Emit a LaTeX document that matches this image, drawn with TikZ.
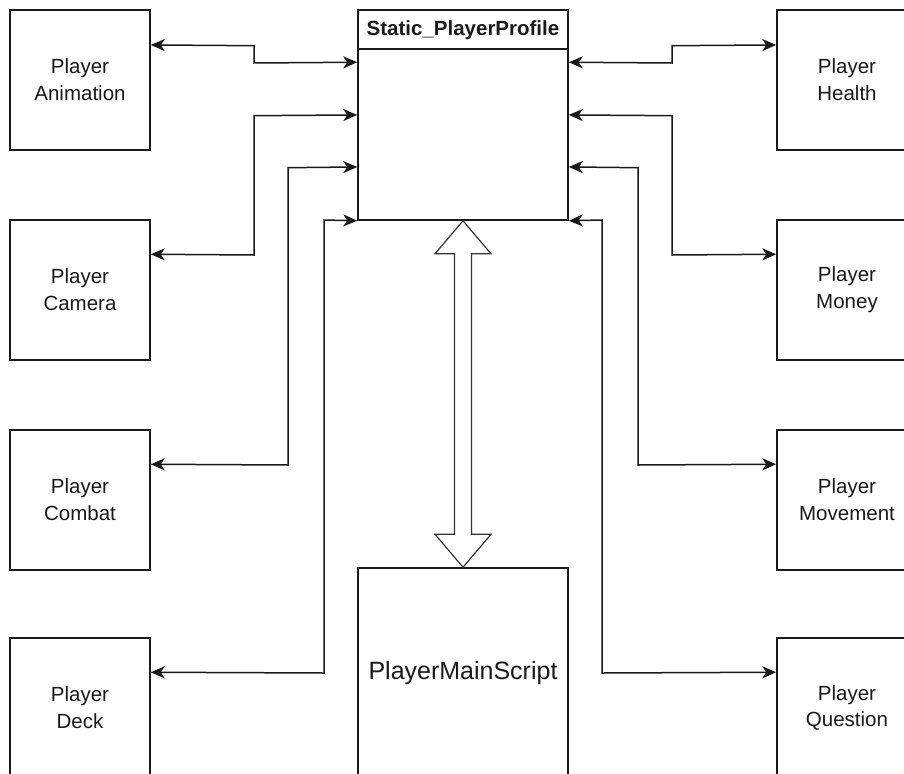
\documentclass[tikz,border=0pt]{standalone}
\usepackage{fontspec}
\setmainfont{Liberation Sans}
\usetikzlibrary{arrows.meta,calc}
\begin{document}
\begin{tikzpicture}[x=1pt,y=-1pt,
  box/.style={draw=black!90,line width=1.5pt,minimum width=140pt,minimum height=140pt,inner sep=0pt,
    align=center,font=\fontsize{20.5}{26.7}\selectfont,text=black!90},
  bigbox/.style={draw=black!90,line width=1.5pt,minimum width=210pt,minimum height=210pt,inner sep=0pt},
  conn/.style={line width=1.5pt,draw=black!90,{Stealth[length=14pt,width=12pt,inset=4pt]}-{Stealth[length=14pt,width=12pt,inset=4pt]}},
  hollow/.style={draw=black!80,line width=1.2pt,fill=white,line join=miter}]
\useasboundingbox (0,0) rectangle (904,773);
% left boxes
\node[box] (anim) at (80,80) {Player\\Animation};
\node[box] (cam) at (80,290) {Player\\Camera};
\node[box] (comb) at (80,500) {Player\\Combat};
\node[box] (deck) at (80,708) {Player\\Deck};
% right boxes
\node[box] (health) at (847,80) {Player\\Health};
\node[box] (money) at (847,290) {Player\\Money};
\node[box] (move) at (847,500) {Player\\Movement};
\node[box] (quest) at (847,708) {Player\\Question};
% central profile
\node[bigbox] (prof) at (463,115) {};
\draw[line width=1.5pt,draw=black!90] ($(prof.north west)+(0,40)$) -- ($(prof.north east)+(0,40)$);
\node[font=\fontsize{20.5}{24}\selectfont\bfseries,text=black!90] (title) at (463,30) {Static\_PlayerProfile};
% main script
\node[bigbox,font=\fontsize{25}{30}\selectfont,text=black!90] (main) at (463,673) {PlayerMainScript};
% left connectors
\draw[conn] ($(anim.north east)+(0,35.7)$) -- (254,45.7) -- (254,63) -- ($(prof.north west)+(0,53)$);
\draw[conn] ($(cam.north east)+(0,35)$) -- (254,255) -- (254,115.7) -- ($(prof.north west)+(0,105.7)$);
\draw[conn] ($(comb.north east)+(0,35)$) -- (288,465) -- (288,167.7) -- ($(prof.north west)+(0,157.7)$);
\draw[conn] ($(deck.north east)+(0,35)$) -- (324,673) -- (324,220) -- (prof.south west);
% right connectors
\draw[conn] ($(health.north west)+(0,35.7)$) -- (672,45.7) -- (672,63) -- ($(prof.north east)+(0,53)$);
\draw[conn] ($(money.north west)+(0,35)$) -- (672,255) -- (672,115.7) -- ($(prof.north east)+(0,105.7)$);
\draw[conn] ($(move.north west)+(0,35)$) -- (638,465) -- (638,167.7) -- ($(prof.north east)+(0,157.7)$);
\draw[conn] ($(quest.north west)+(0,35)$) -- (602,673) -- (602,220) -- (prof.south east);
% hollow double arrow
\draw[hollow] (prof.south) -- ($(prof.south)+(-28,33)$) -- ($(prof.south)+(-8.5,33)$)
  -- ($(main.north)+(-8.5,-33)$) -- ($(main.north)+(-28,-33)$) -- (main.north)
  -- ($(main.north)+(28,-33)$) -- ($(main.north)+(8.5,-33)$)
  -- ($(prof.south)+(8.5,33)$) -- ($(prof.south)+(28,33)$) -- cycle;
\end{tikzpicture}
\end{document}
